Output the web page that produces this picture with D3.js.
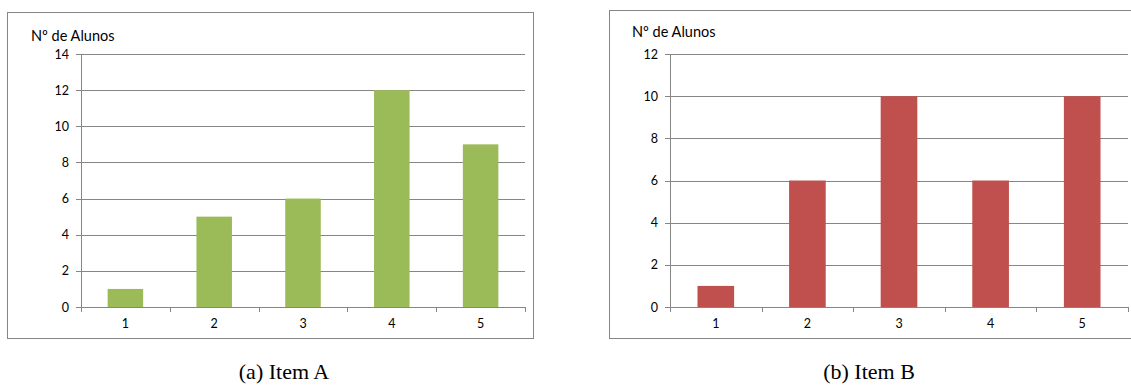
<!DOCTYPE html>
<html>
<head>
<meta charset="utf-8">
<script src="https://cdn.jsdelivr.net/npm/d3@7"></script>
<style>
body { margin: 0; background: #fff; }
svg text { font-family: Lato, "Open Sans", sans-serif; }
.caption { font-family: "Liberation Serif", "DejaVu Serif", serif; }
</style>
</head>
<body>
<svg id="chart"></svg>
<script>
var width = 1131
var height = 389

// data
var categories = ["1", "2", "3", "4", "5"]
var itemA = [1, 5, 6, 12, 9]
var itemB = [1, 6, 10, 6, 10]
var ticksA = [0, 2, 4, 6, 8, 10, 12, 14]
var ticksB = [0, 2, 4, 6, 8, 10, 12]
var yTitle = "Nº de Alunos"
var captions = ["(a) Item A", "(b) Item B"]

var gray = "#868686"

var svg = d3.select("#chart")
    .attr("width", width)
    .attr("height", height)

function drawChart(opt) {
    var g = svg.append("g")

    // outer frame
    g.append("rect")
        .attr("x", opt.box[0] + 0.5)
        .attr("y", opt.box[1] + 0.5)
        .attr("width", opt.box[2] - opt.box[0])
        .attr("height", opt.box[3] - opt.box[1])
        .attr("fill", "white")
        .attr("stroke", gray)
        .attr("stroke-width", 1)

    var x = d3.scaleBand()
        .domain(categories)
        .range([opt.plot[0], opt.plot[2]])
        .paddingInner(0.6)
        .paddingOuter(0.3)

    var y = d3.scaleLinear()
        .domain([0, d3.max(opt.ticks)])
        .range([opt.plot[3], opt.plot[1]])

    // gridlines
    g.append("g")
        .attr("transform", "translate(" + opt.plot[0] + ",0)")
        .call(d3.axisLeft(y).tickValues(opt.ticks).tickSize(-(opt.plot[2] - opt.plot[0])).tickFormat(""))
        .call(function(s) {
            s.select(".domain").remove()
            s.selectAll("line").attr("stroke", gray).attr("shape-rendering", "crispEdges")
        })

    // bars
    g.selectAll("rect.bar")
        .data(opt.values)
        .enter()
        .append("rect")
        .attr("class", "bar")
        .attr("x", function(d, i) { return x(categories[i]) })
        .attr("y", function(d) { return y(d) })
        .attr("width", x.bandwidth())
        .attr("height", function(d) { return y(0) - y(d) })
        .attr("fill", opt.color)

    // y axis
    g.append("g")
        .attr("transform", "translate(" + opt.plot[0] + ",0)")
        .call(d3.axisLeft(y).tickValues(opt.ticks).tickSize(5).tickPadding(7))
        .call(function(s) {
            s.select(".domain").attr("stroke", gray).attr("d", "M0.5," + opt.plot[1] + "V" + opt.plot[3])
            s.selectAll("line").attr("stroke", gray).attr("shape-rendering", "crispEdges")
            s.selectAll("text").attr("font-size", "12.5px").attr("fill", "#000")
                .attr("font-family", "Lato, sans-serif")
        })

    // x axis line and labels
    g.append("g")
        .attr("transform", "translate(0," + opt.plot[3] + ")")
        .call(d3.axisBottom(x).tickSize(0).tickPadding(12))
        .call(function(s) {
            s.select(".domain").attr("stroke", gray).attr("shape-rendering", "crispEdges")
            s.selectAll("text").attr("font-size", "12.5px").attr("fill", "#000")
                .attr("font-family", "Lato, sans-serif")
        })

    // boundary tick marks between categories
    var bounds = d3.range(categories.length + 1)
    g.selectAll("line.btick")
        .data(bounds)
        .enter()
        .append("line")
        .attr("class", "btick")
        .attr("x1", function(i) { return Math.round(opt.plot[0] + i * x.step()) + 0.5 })
        .attr("x2", function(i) { return Math.round(opt.plot[0] + i * x.step()) + 0.5 })
        .attr("y1", opt.plot[3])
        .attr("y2", opt.plot[3] + 5)
        .attr("stroke", gray)

    g.append("text")
        .attr("x", opt.title[0])
        .attr("y", opt.title[1])
        .attr("font-size", "14.5px")
        .text(yTitle)

    svg.append("text")
        .attr("class", "caption")
        .attr("x", opt.caption[0])
        .attr("y", opt.caption[1])
        .attr("text-anchor", "middle")
        .attr("font-size", "22px")
        .text(opt.captionText)
}

drawChart({
    box: [7, 12, 533, 338],
    plot: [81, 54, 525, 307],
    ticks: ticksA,
    values: itemA,
    color: "#9BBB59",
    title: [31, 41],
    caption: [284, 379],
    captionText: captions[0]
})

drawChart({
    box: [609, 10, 1140, 338],
    plot: [670, 54, 1128, 307],
    ticks: ticksB,
    values: itemB,
    color: "#C0504D",
    title: [632, 37],
    caption: [869, 379],
    captionText: captions[1]
})
</script>
</body>
</html>
